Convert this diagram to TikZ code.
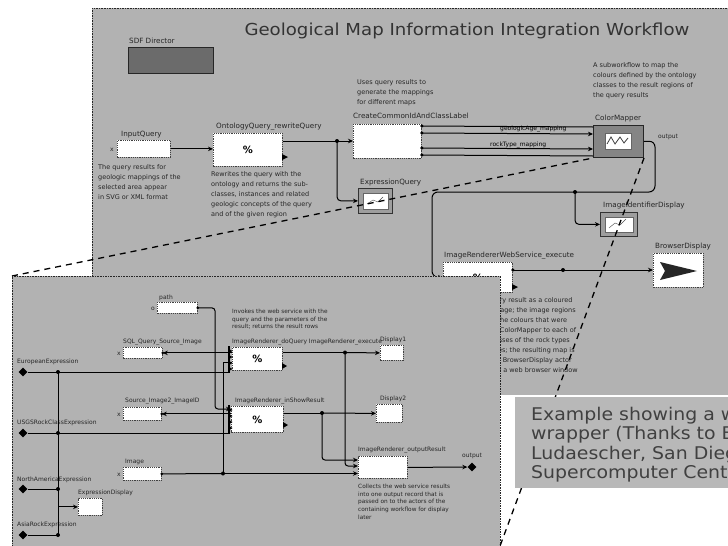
\documentclass[tikz,border=0pt]{standalone}
\usepackage{graphicx}
\usepackage{fontspec}
\setmainfont{DejaVu Sans}
\usetikzlibrary{arrows.meta,shapes.geometric,calc}
\begin{document}
\begin{tikzpicture}[x=1pt,y=-1pt,
  panelfill/.style={fill=black!30},
  paneledge/.style={draw=black!85,line width=0.9pt,dash pattern=on 1.6pt off 1pt},
  actor/.style={draw=black!75,fill=white,line width=0.8pt,dash pattern=on 1.2pt off 1pt,inner sep=0pt,anchor=north west},
  iconactor/.style={actor,fill=black!38,draw=black!80,solid},
  darkactor/.style={actor,fill=black!48,draw=black!85,solid,line width=1pt},
  sz/.style 2 args={minimum width=#1pt,minimum height=#2pt},
  wire/.style={draw=black,line width=1pt},
  arr/.style={wire,-{Stealth[length=5pt,width=4.5pt]}},
  jdot/.style={circle,fill=black,inner sep=0pt,minimum size=4pt},
  lbl/.style={font=\fontsize{7.2}{8}\selectfont,anchor=base west,inner sep=0pt,text=black!85},
  slbl/.style={font=\fontsize{6}{7}\selectfont,anchor=base west,inner sep=0pt,text=black!85},
  note/.style={font=\fontsize{6.5}{10}\selectfont,align=left,anchor=north west,inner sep=0pt,text=black!85},
  snote/.style={font=\fontsize{5.8}{7.6}\selectfont,align=left,anchor=north west,inner sep=0pt,text=black!85},
  extport/.style={diamond,fill=black,inner sep=0pt,minimum width=9pt,minimum height=9pt},
  zoomline/.style={draw=black,line width=1.3pt,dash pattern=on 6pt off 5pt},
  icon/.style={fill=white,draw=black!60,line width=0.6pt},
]
\useasboundingbox (0,0) rectangle (728,546);
\clip (0,0) rectangle (728,546);

% ---------- top-level workflow ----------
\fill[panelfill] (92,8) rectangle (740,395);
\draw[paneledge] (740,8) -- (92,8) -- (92,395);

\node[font=\fontsize{16.5}{18}\selectfont,text=black!80,inner sep=0pt] (title) at (467,31)
  {\scalebox{1.1}[1]{Geological Map Information Integration Workflow}};

\node[lbl] (sdflbl) at (129,43) {SDF Director};
\node[darkactor,sz={85}{26},fill=black!58] (sdf) at (128,47) {};

% query input
\node[lbl] (inqlbl) at (121,136) {InputQuery};
\node[actor,sz={53}{17}] (inq) at (117,140) {};
\node[slbl] (inqx) at (110,151) {x};
\node[note] (inqnote) at (98,164) {The query results for\\geologic mappings of the\\selected area appear\\in SVG or XML format};

% ontology rewriting
\node[lbl] (ontolbl) at (216,128) {OntologyQuery\_rewriteQuery};
\node[actor,sz={69}{33}] (onto) at (213,133) {\fontsize{10}{10}\selectfont\bfseries\%};
\node[note] (ontonote) at (211,171) {Rewrites the query with the\\ontology and returns the sub-\\classes, instances and related\\geologic concepts of the query\\and of the given region};

% id and class creation
\node[note] (crnote) at (357,79) {Uses query results to\\generate the mappings\\for different maps};
\node[lbl] (crlbl) at (353,118) {CreateCommonIdAndClassLabel};
\node[actor,sz={68}{34}] (create) at (353,124) {};

\node[lbl] (exlbl) at (360,184) {ExpressionQuery};
\node[iconactor,sz={34}{25}] (expr) at (358,188) {};
\draw[icon] ($(expr.north west)+(5,5)$) rectangle ($(expr.south east)+(-5,-5)$);
\draw[black!70] ($(expr.north west)+(9,16)$) -- ++(6,-4) -- ++(5,2) -- ++(5,-5);

% colour mapping subworkflow
\node[note] (cmnote) at (593,62) {A subworkflow to map the\\colours defined by the ontology\\classes to the result regions of\\the query results};
\node[lbl] (cmlbl) at (595,120) {ColorMapper};
\node[darkactor,sz={50}{32}] (cm) at (593,125) {};
\draw[icon] (605,133) rectangle (631,149);
\draw[black!75,line width=0.8pt] (607,144) -- (611,137) -- (615,144) -- (620,137) -- (624,143) -- (628,138);

\node[lbl] (idlbl) at (603,207) {ImageIdentifierDisplay};
\node[iconactor,sz={37}{24}] (disp) at (600,212) {};
\draw[icon] ($(disp.north west)+(5,5)$) rectangle ($(disp.south east)+(-5,-5)$);
\draw[black!70] ($(disp.north west)+(9,16)$) -- ++(6,-5) -- ++(5,2) -- ++(6,-6);

% rendering and display
\node[note] (irnote) at (446,297) {Renders the query result as a coloured\\geologic map image; the image regions\\are shown with the colours that were\\assigned by the ColorMapper to each of\\the ontology classes of the rock types\\and geologic ages; the resulting map is\\passed on to the BrowserDisplay actor\\which opens it in a web browser window\\for the user};
\node[lbl] (irlbl) at (444,257) {ImageRendererWebService\_execute};
\node[actor,sz={69}{30}] (ir) at (443,262) {\bfseries\%};

\node[lbl] (bdlbl) at (655,248) {BrowserDisplay};
\node[actor,sz={50}{34}] (bd) at (653,253) {};
\fill[black!85] (660,262) -- (697,271) -- (660,280) -- (665,271) -- cycle;

% connections of the top-level workflow
\draw[arr] (inq.east) -- (onto.west |- inq.east);
\coordinate (j1) at (337,141);
\draw[wire] (onto.east |- j1) -- (j1);
\draw[arr] (j1) -- (create.west |- j1);
\draw[arr,rounded corners=4pt] (j1) |- (expr.west);
\node[jdot] at (j1) {};
\fill (282,154) -- ++(6,3) -- ++(-6,3) -- cycle;

\foreach \dy/\st in {2/wire,9/arr,24/arr,31/wire}{
  \draw[\st] ($(create.north east)+(0,\dy)$) -- ($(cm.north west)+(0,\dy)$);
  \node[jdot,minimum size=3.5pt] at ($(create.north east)+(0,\dy)$) {};
}
\node[slbl,text=black] (ch1) at (500,130) {geologicAge\_mapping};
\node[slbl,text=black] (ch2) at (490,146) {rockType\_mapping};

\coordinate (cmo) at (655,141);
\coordinate (j2) at (575,192);
\coordinate (bend) at (432,192);
\draw[arr,rounded corners=6pt] (cm.east) -- (cmo) -- (655,192) -- (bend) -- (432,277) -- (ir.west);
\node[slbl] (outlbl) at (658,138) {output};
\draw[arr,rounded corners=4pt] (j2) |- (disp.west);
\node[jdot] at (j2) {};

\coordinate (j3) at (563,270);
\draw[arr] (ir.east |- j3) -- (bd.west |- j3);
\node[jdot] at (j3) {};
\node[jdot,minimum size=3.5pt] at (ir.east |- j3) {};
\fill (512,284) -- ++(6,3) -- ++(-6,3) -- cycle;

% magnified view outline
\coordinate (lowNW) at (12,276);
\coordinate (lowSE) at (500,546);
\draw[zoomline] (lowNW) -- (cm.south west);

% ---------- expanded ColorMapper subworkflow ----------
\fill[panelfill] (lowNW) rectangle (500,552);
\draw[paneledge] (12,552) -- (lowNW) -- (500,276) -- (500,552);

\node[slbl] at (159,299) {path};
\node[actor,sz={40}{11}] (pg) at (157,302) {};
\node[slbl] at (151,310) {o};

\node[slbl] at (123,343) {SQL\_Query\_Source\_Image};
\node[actor,sz={39}{11}] (sq) at (123,347) {};
\node[slbl] at (117,355) {x};

\node[snote] (c1note) at (232,309) {Invokes the web service with the\\query and the parameters of the\\result; returns the result rows};
\node[slbl] at (232,343) {ImageRenderer\_doQuery ImageRenderer\_execute};
\node[actor,sz={50}{23}] (c1) at (232,347) {\bfseries\%};

\node[slbl] at (380,341) {Display1};
\node[actor,sz={23}{15}] (d1) at (380,345) {};

\node[slbl] at (235,402) {ImageRenderer\_inShowResult};
\node[actor,sz={52}{26}] (c2) at (231,406) {\bfseries\%};

\node[slbl] at (380,400) {Display2};
\node[actor,sz={26}{18}] (d2) at (376,404) {};

\node[slbl] at (125,402) {Source\_Image2\_ImageID};
\node[actor,sz={38}{13}] (si) at (123,407) {};
\node[slbl] at (117,416) {x};

\node[slbl] at (125,463) {Image};
\node[actor,sz={38}{13}] (im) at (123,467) {};
\node[slbl] at (117,476) {x};

\node[slbl] at (358,451) {ImageRenderer\_outputResult};
\node[actor,sz={49}{22}] (cb) at (358,456) {};
\node[snote] (cbnote) at (358,484) {Collects the web service results\\into one output record that is\\passed on to the actors of the\\containing workflow for display\\later};

\node[extport] (outp) at (472,467) {};
\node[slbl] at (462,457) {output};

\node[extport] (p1) at (23,372) {};
\node[slbl] at (17,363) {EuropeanExpression};
\node[extport] (p2) at (23,433) {};
\node[slbl] at (17,424) {USGSRockClassExpression};
\node[extport] (p3) at (23,489) {};
\node[slbl] at (17,481) {NorthAmericaExpression};
\node[extport] (p4) at (23,535) {};
\node[slbl] at (17,526) {AsiaRockExpression};

\node[slbl] at (78,494) {ExpressionDisplay};
\node[actor,sz={24}{17}] (d3) at (78,498) {};

% connections of the subworkflow
\coordinate (q1) at (58,372);
\coordinate (q2) at (58,433);
\coordinate (q3) at (58,489);
\coordinate (q4) at (58,535);
\draw[wire] (q1) -- (q4);
\draw[wire] (p1) -- (229,372);
\draw[wire] (p2) -- (229,433);
\draw[wire] (p3) -- (q3);
\draw[wire] (p4) -- (q4);
\foreach \q in {q1,q2,q3,q4} \node[jdot] at (\q) {};
\draw[arr] (q1 |- d3.west) -- (d3.west);

\draw[line width=1.4pt] (229,346) -- (229,373);
\draw[line width=1.4pt] (229,405) -- (229,434);
\foreach \y in {351,357,363,369,410,416,422,428}
  \fill (229,\y-2) -- (232.5,\y) -- (229,\y+2) -- cycle;

\draw[arr] (c1.west |- sq.east) -- (sq.east);
\draw[arr] (c2.west |- si.east) -- (si.east);
\node[jdot,minimum size=3pt] at (sq.east) {};
\node[jdot,minimum size=3pt] at (si.east) {};
\draw[arr,rounded corners=3pt] (pg.east) -| (215,409) -- (c2.west |- 215,409);
\node[jdot,minimum size=3pt] at (pg.east) {};

\coordinate (j4) at (223,473.5);
\draw[wire] (im.east) -- (j4);
\draw[arr] (j4) -- (cb.west |- j4);
\draw[wire] (j4) -- (223,362) -- (c1.west |- 223,362);
\node[jdot] at (j4) {};
\node[jdot,minimum size=3pt] at (im.east) {};

\coordinate (j5) at (345,352.5);
\draw[wire] (c1.east |- j5) -- (j5);
\draw[arr] (j5) -- (d1.west);
\draw[arr,rounded corners=3pt] (j5) |- ($(cb.north west)+(0,10)$);
\node[jdot] at (j5) {};

\coordinate (j6) at (322,413);
\draw[wire] (c2.east |- j6) -- (j6);
\draw[arr] (j6) -- (d2.west);
\draw[arr,rounded corners=3pt] (j6) |- ($(cb.north west)+(0,4)$);
\node[jdot] at (j6) {};

\fill (282,363) -- ++(5,3) -- ++(-5,3) -- cycle;
\fill (283,422) -- ++(5,3) -- ++(-5,3) -- cycle;
\draw[arr] (cb.east) -- (outp);

% second outline line of the magnified view
\draw[zoomline] (cm.south east) -- (lowSE);

% ---------- caption ----------
\fill[black!28] (515,397) rectangle (740,488);
\node[anchor=north west,inner sep=0pt,align=left,font=\fontsize{17.5}{19.3}\selectfont,text=black!75] (cap) at (531,407)
  {\scalebox{1.08}[1]{Example showing a w}\\\scalebox{1.08}[1]{wrapper (Thanks to B}\\\scalebox{1.08}[1]{Ludaescher, San Dieg}\\\scalebox{1.08}[1]{Supercomputer Cent}};
\end{tikzpicture}
\end{document}
